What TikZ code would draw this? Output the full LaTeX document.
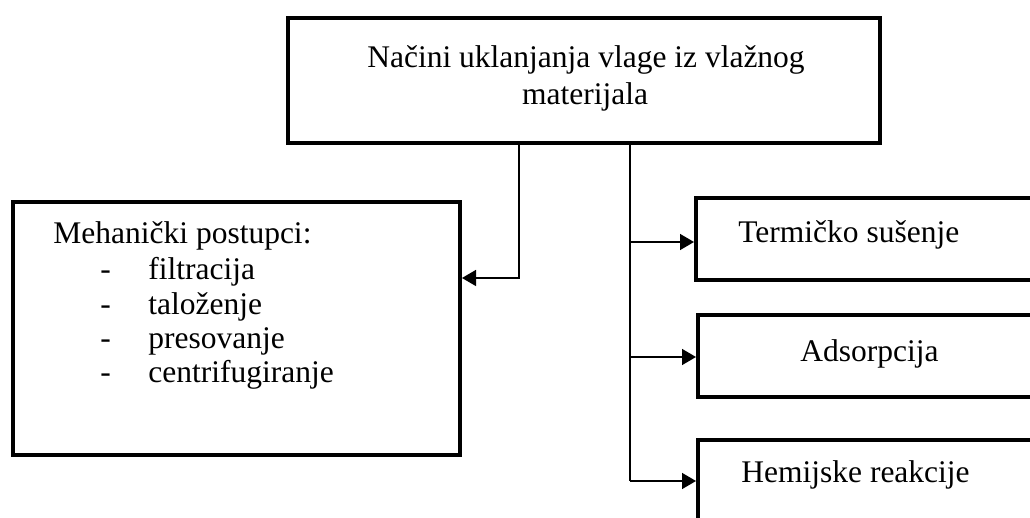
\documentclass[tikz,border=0pt]{standalone}
\usepackage{fontspec}
\setmainfont{Liberation Serif}
\usetikzlibrary{arrows.meta}
\begin{document}
\begin{tikzpicture}[x=0.5pt,y=-0.5pt,
  box/.style={draw, line width=2pt, rectangle, inner sep=0pt},
  conn/.style={line width=0.75pt},
  arr/.style={conn, -{Triangle[length=7pt,width=8pt]}},
  txt/.style={inner sep=0pt, font=\fontsize{15.75pt}{18pt}\selectfont}]
\clip (0,0) rectangle (1030,518);
\fill[white] (0,0) rectangle (1030,518);
% top box
\node[box, minimum width=296pt, minimum height=62.5pt] (top) at (584,80.5) {};
\node[txt, anchor=base] (t1) at (586,68) {Načini uklanjanja vlage iz vlažnog};
\node[txt, anchor=base] (t2) at (585,105) {materijala};
% mechanical box
\node[box, minimum width=223.5pt, minimum height=126.5pt] (mech) at (236.5,328.5) {};
\node[txt, anchor=base west] (m0) at (53,244) {Mehanički postupci:};
\node[txt, anchor=base west] (d1) at (100,280) {-};
\node[txt, anchor=base west] (d2) at (100,315) {-};
\node[txt, anchor=base west] (d3) at (100,349) {-};
\node[txt, anchor=base west] (d4) at (100,383) {-};
\node[txt, anchor=base west] (m1) at (148,280) {filtracija};
\node[txt, anchor=base west] (m2) at (148,315) {taloženje};
\node[txt, anchor=base west] (m3) at (148,349) {presovanje};
\node[txt, anchor=base west] (m4) at (148,383) {centrifugiranje};
% right boxes
\node[box, minimum width=202pt, minimum height=41pt] (b1) at (898,239) {};
\node[txt, anchor=base west] (l1) at (738,243) {Termičko sušenje};
\node[box, minimum width=201pt, minimum height=41pt] (b2) at (899,356) {};
\node[txt, anchor=base west] (l2) at (800,362) {Adsorpcija};
\node[box, minimum width=201pt, minimum height=41pt] (b3) at (899,481) {};
\node[txt, anchor=base west] (l3) at (741,483) {Hemijske reakcije};
% connectors
\coordinate (jL) at (519,278);
\draw[arr] (top.south -| jL) -- (jL) -- (mech.east |- jL);
\coordinate (r1) at (630,242);
\coordinate (r2) at (630,357);
\coordinate (r3) at (630,481);
\draw[conn] (top.south -| r1) -- (r3);
\draw[arr] (r1) -- (b1.west |- r1);
\draw[arr] (r2) -- (b2.west |- r2);
\draw[arr] (r3) -- (b3.west |- r3);
\end{tikzpicture}
\end{document}
